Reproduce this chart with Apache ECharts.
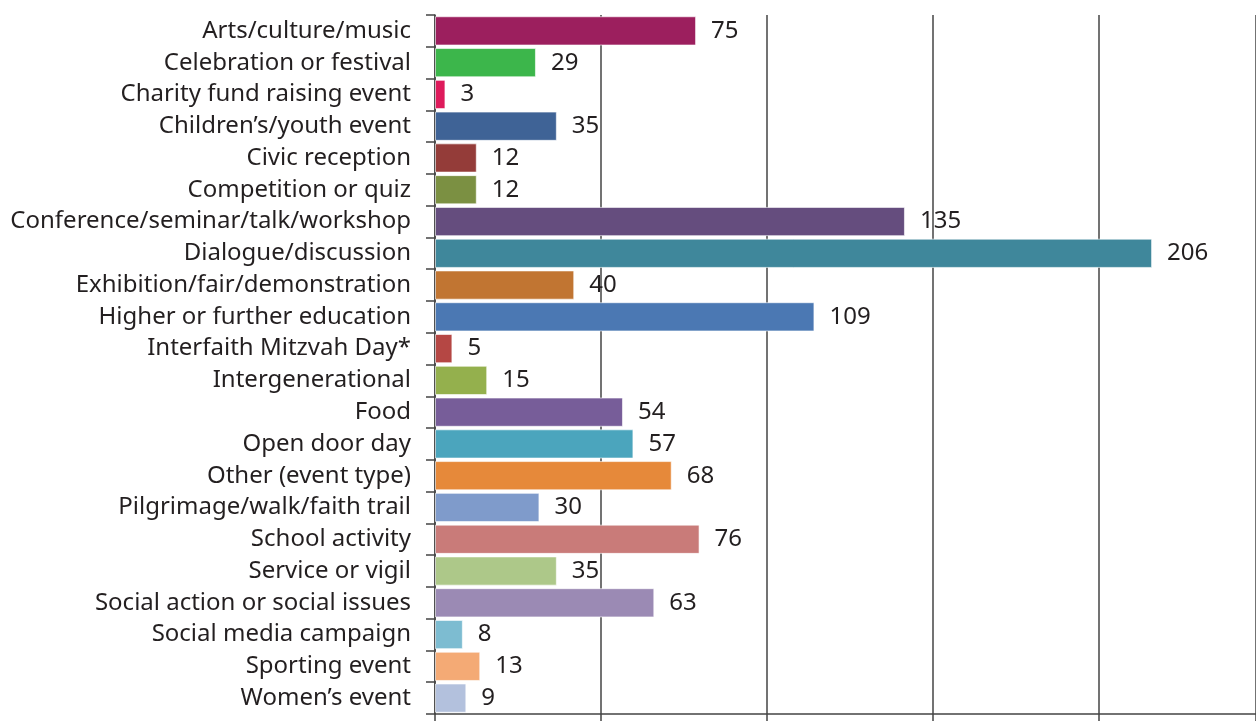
<!DOCTYPE html>
<html>
<head>
<meta charset="utf-8">
<script src="https://cdn.jsdelivr.net/npm/echarts@6/dist/echarts.min.js"></script>
<style>
html,body{margin:0;padding:0;background:#fff;}
#chart{width:1256px;height:721px;}
</style>
</head>
<body>
<div id="chart"></div>
<script>
const categories = [
  "Arts/culture/music",
  "Celebration or festival",
  "Charity fund raising event",
  "Children\u2019s/youth event",
  "Civic reception",
  "Competition or quiz",
  "Conference/seminar/talk/workshop",
  "Dialogue/discussion",
  "Exhibition/fair/demonstration",
  "Higher or further education",
  "Interfaith Mitzvah Day*",
  "Intergenerational",
  "Food",
  "Open door day",
  "Other (event type)",
  "Pilgrimage/walk/faith trail",
  "School activity",
  "Service or vigil",
  "Social action or social issues",
  "Social media campaign",
  "Sporting event",
  "Women\u2019s event"
];
const values = [75, 29, 3, 35, 12, 12, 135, 206, 40, 109, 5, 15, 54, 57, 68, 30, 76, 35, 63, 8, 13, 9];
const barColors = [
  "#9c1f5e", "#3cb64b", "#de1a5b", "#3f6396", "#943c39", "#7b9042",
  "#654d7e", "#3f879b", "#c17532", "#4b78b3", "#b54744", "#94b04d",
  "#775d99", "#4ba5bd", "#e6893a", "#7f9bcb", "#c97b79", "#adc889",
  "#9b8ab4", "#7dbcd1", "#f4aa75", "#b3c1dd"
];
const xInterval = 47.69;
const xMax = 235.85;

const fontFamily = "'Noto Sans', sans-serif";
const textColor = "#231f20";

const chart = echarts.init(document.getElementById('chart'), null, {renderer: 'canvas'});
chart.setOption({
  animation: false,
  backgroundColor: '#ffffff',
  grid: {left: 435, right: 0, top: 15, bottom: 7, containLabel: false},
  xAxis: {
    type: 'value',
    min: 0,
    max: xMax,
    interval: xInterval,
    axisLine: {show: true, lineStyle: {color: '#444', width: 1.5}},
    axisTick: {show: true, length: 8, lineStyle: {color: '#444', width: 1.5}},
    axisLabel: {show: false},
    splitLine: {show: true, lineStyle: {color: '#444', width: 1.5}}
  },
  yAxis: {
    type: 'category',
    inverse: true,
    data: categories,
    axisLine: {show: true, lineStyle: {color: '#444', width: 1.5}},
    axisTick: {show: true, length: 9, alignWithLabel: false, lineStyle: {color: '#444', width: 1.5}},
    axisLabel: {
      margin: 24,
      fontSize: 24,
      fontFamily: fontFamily,
      color: textColor
    },
    splitLine: {show: false}
  },
  series: [{
    type: 'bar',
    data: values.map((v, i) => ({value: v, itemStyle: {color: barColors[i]}})),
    barCategoryGap: '8%',
    itemStyle: {borderColor: 'rgba(255,255,255,0.6)', borderWidth: 1},
    label: {
      show: true,
      position: 'right',
      distance: 15,
      fontSize: 24,
      fontFamily: fontFamily,
      color: textColor
    }
  }]
});
</script>
</body>
</html>
